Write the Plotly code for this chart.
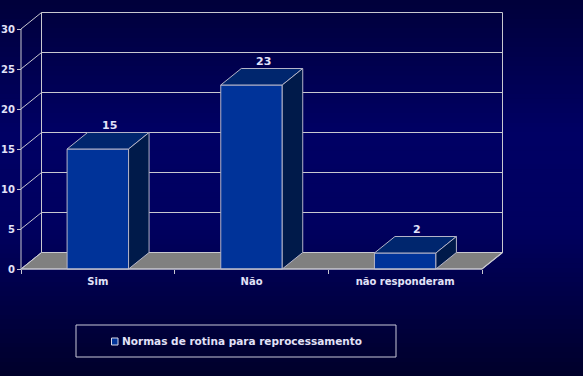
import plotly.graph_objects as go

# ---- data ----
categories = ["Sim", "Não", "não responderam"]
values = [15, 23, 2]
series_name = "Normas de rotina para reprocessamento"
y_ticks = [0, 5, 10, 15, 20, 25, 30]

# ---- geometry / style ----
SX = 153.67      # px per category unit
SY = 8.0         # px per value unit
DDX = 20.5 / SX  # depth offset (x, data units)
DDY = 16.5 / SY  # depth offset (y, data units)
HALF = 0.2       # half bar width
W, H = 583, 376
L_PX, R_PX = 17, 506
T_PX, B_PX = 9, 272
X_RANGE = [-0.5 - 4 / SX, -0.5 + (R_PX - 21) / SX]
Y_RANGE = [-(B_PX - 269) / SY, (269 - T_PX) / SY]
PW = R_PX - L_PX
PH = B_PX - T_PX

FRONT = "#003399"
TOP = "#00266e"
SIDE = "#001a4a"
EDGE = "#b4b4c8"
GRID = "#c8c8d0"
TXT = "#e2e2f8"
FONT = "DejaVu Sans"

fig = go.Figure()
shapes = []

def px_x(px):
    return (px - L_PX) / PW

def px_y(py):
    return (B_PX - py) / PH

# background gradient (paper coords)
stops = [(0.0, 58), (0.35, 100), (0.6, 96), (1.0, 42)]
def blue_at(t):
    for (t0, b0), (t1, b1) in zip(stops[:-1], stops[1:]):
        if t0 <= t <= t1:
            return b0 + (b1 - b0) * (t - t0) / (t1 - t0)
    return stops[-1][1]
N = 80
for i in range(N):
    py0 = H * i / N
    py1 = H * (i + 1) / N + 0.6
    b = int(round(blue_at((i + 0.5) / N)))
    shapes.append(dict(type="rect", xref="paper", yref="paper", layer="below",
                       x0=px_x(0), x1=px_x(W), y0=px_y(py1), y1=px_y(py0),
                       fillcolor=f"rgb(0,0,{b})", line=dict(width=0)))

x_left = -0.5
x_right = len(categories) - 0.5
top_v = y_ticks[-1]

# floor
shapes.append(dict(type="path", xref="x", yref="y", layer="below",
                   path=f"M{x_left},0 L{x_right},0 L{x_right+DDX},{DDY} L{x_left+DDX},{DDY} Z",
                   fillcolor="#808080", line=dict(color=GRID, width=1)))

# gridlines on left wall + back wall
for v in y_ticks[1:]:
    shapes.append(dict(type="path", xref="x", yref="y", layer="below",
                       path=f"M{x_left},{v} L{x_left+DDX},{v+DDY} L{x_right+DDX},{v+DDY}",
                       line=dict(color=GRID, width=1)))
# walls edges
shapes.append(dict(type="line", xref="x", yref="y", layer="below",
                   x0=x_left + DDX, x1=x_left + DDX, y0=DDY, y1=top_v + DDY,
                   line=dict(color=GRID, width=1)))
shapes.append(dict(type="line", xref="x", yref="y", layer="below",
                   x0=x_right + DDX, x1=x_right + DDX, y0=DDY, y1=top_v + DDY,
                   line=dict(color=GRID, width=1)))
shapes.append(dict(type="line", xref="x", yref="y", layer="below",
                   x0=x_left, x1=x_left, y0=0, y1=top_v,
                   line=dict(color=GRID, width=1)))
shapes.append(dict(type="path", xref="x", yref="y", layer="below",
                   path=f"M{x_left},0 L{x_left+DDX},{DDY}",
                   line=dict(color=GRID, width=1)))

# front bars
xs = list(range(len(categories)))
fig.add_trace(go.Bar(x=xs, y=values, width=2 * HALF, marker=dict(color=FRONT, line=dict(color=EDGE, width=1)),
                     showlegend=False, hoverinfo="skip"))
for c, v in zip(xs, values):
    # top face
    fig.add_trace(go.Scatter(
        x=[c - HALF, c + HALF, c + HALF + DDX, c - HALF + DDX, c - HALF],
        y=[v, v, v + DDY, v + DDY, v], mode="lines", fill="toself",
        fillcolor=TOP, line=dict(color=EDGE, width=1), showlegend=False, hoverinfo="skip"))
    # side face
    fig.add_trace(go.Scatter(
        x=[c + HALF, c + HALF + DDX, c + HALF + DDX, c + HALF, c + HALF],
        y=[0, DDY, v + DDY, v, 0], mode="lines", fill="toself",
        fillcolor=SIDE, line=dict(color=EDGE, width=1), showlegend=False, hoverinfo="skip"))

# front floor edge (x-axis line)
fig.add_trace(go.Scatter(x=[x_left, x_right, x_right + DDX], y=[0, 0, DDY], mode="lines",
                         line=dict(color=GRID, width=1.2), showlegend=False, hoverinfo="skip"))

annotations = []
for c, v in zip(xs, values):
    annotations.append(dict(x=c + DDX / 2 + 0.01, y=v + DDY, xref="x", yref="y", text=str(v),
                            showarrow=False, yanchor="bottom", yshift=-1,
                            font=dict(family=FONT, size=11, color=TXT, weight="bold")))

# legend entry (symbol drawn as a small square shape next to the text)
fig.add_trace(go.Scatter(x=[None], y=[None], mode="markers", name=series_name,
                         marker=dict(symbol="square", size=1, color="rgba(0,0,0,0)",
                                     line=dict(width=0))))
shapes.append(dict(type="rect", xref="paper", yref="paper",
                   x0=px_x(111.5), x1=px_x(118), y0=px_y(345), y1=px_y(338),
                   fillcolor=FRONT, line=dict(color="#d8d8e8", width=1)))

# legend box
shapes.append(dict(type="rect", xref="paper", yref="paper",
                   x0=px_x(76), x1=px_x(396), y0=px_y(357), y1=px_y(325),
                   line=dict(color="#c8c8d8", width=1), fillcolor="rgba(0,0,0,0)"))

fig.update_layout(
    width=W, height=H,
    margin=dict(l=L_PX, r=W - R_PX, t=T_PX, b=H - B_PX, autoexpand=False),
    paper_bgcolor="#000050", plot_bgcolor="rgba(0,0,0,0)",
    shapes=shapes, annotations=annotations,
    showlegend=True,
    legend=dict(x=px_x(82), y=px_y(341), xanchor="left", yanchor="middle",
                orientation="h", bgcolor="rgba(0,0,0,0)", borderwidth=0,
                font=dict(family=FONT, size=10.5, color=TXT, weight="bold")),
    xaxis=dict(range=X_RANGE, tickvals=xs, ticktext=categories, showgrid=False, zeroline=False,
               showline=False, ticks="", anchor="free", position=(B_PX - 269) / PH, automargin=False,
               ticklabelstandoff=5,
               tickfont=dict(family=FONT, size=10, color=TXT, weight="bold"),
               minor=dict(tickvals=[x_left + i for i in range(len(categories) + 1)], ticks="outside",
                          ticklen=4, tickcolor=GRID, showgrid=False)),
    yaxis=dict(range=Y_RANGE, tickvals=y_ticks, showgrid=False, zeroline=False, showline=False,
               ticks="outside", ticklen=4, tickcolor=GRID, anchor="free", position=(21 - L_PX) / PW,
               automargin=False,
               tickfont=dict(family=FONT, size=10, color=TXT, weight="bold")),
)

fig.write_html("out.html", post_script="document.body.style.margin='0';",
               config={"displayModeBar": False})
